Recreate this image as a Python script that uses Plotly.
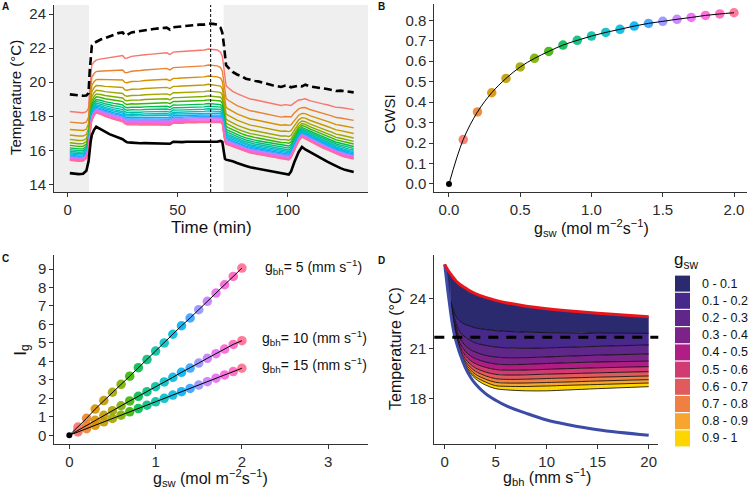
import plotly.graph_objects as go

W, H = 750, 489
FONT = "Liberation Sans, Arial, sans-serif"

# ---------------- Panel A data ----------------
time_min = [1, 3, 5, 7, 8.5, 9.5, 10, 10.5, 11, 12, 13, 14, 15, 17, 19, 21, 23, 25, 26, 27,
            29, 31, 33, 35, 37, 39, 41, 43, 45, 46.5, 48, 50, 52, 54, 56, 58, 60, 62, 64, 66,
            68, 69.5, 70.3, 71, 71.5, 72, 73, 75, 77, 79, 81, 83, 85, 87, 89, 91, 93, 95, 97, 99,
            100.5, 101.5, 103, 105, 106.5, 108, 110, 112, 114, 116, 118, 120, 122, 124, 126, 128, 130]
T_dry = [19.28, 19.25, 19.22, 19.20, 19.22, 19.35, 20.60, 21.60, 22.15, 22.30,
         22.38, 22.45, 22.50, 22.58, 22.70, 22.78, 22.88, 22.92, 22.75, 22.78,
         22.92, 22.95, 23.00, 23.05, 23.08, 23.12, 23.13, 23.18, 23.20, 23.08,
         23.22, 23.25, 23.27, 23.30, 23.32, 23.34, 23.38, 23.38, 23.45, 23.42,
         23.38, 23.20, 22.90, 22.20, 21.50, 21.00, 20.85, 20.60, 20.45, 20.35,
         20.20, 20.12, 20.08, 20.03, 19.95, 19.88, 19.82, 19.78, 19.72, 19.80,
         19.78, 19.70, 19.75, 19.80, 19.75, 19.85, 19.75, 19.70, 19.67, 19.63,
         19.60, 19.55, 19.48, 19.50, 19.47, 19.42, 19.40]
T_wet = [14.66, 14.62, 14.60, 14.62, 14.80, 15.35, 16.05, 16.55, 16.90, 17.20,
         17.38, 17.32, 17.25, 17.10, 16.95, 16.85, 16.75, 16.65, 16.55, 16.47,
         16.45, 16.42, 16.41, 16.42, 16.41, 16.40, 16.41, 16.40, 16.40, 16.38,
         16.50, 16.48, 16.48, 16.50, 16.48, 16.50, 16.50, 16.50, 16.52, 16.50,
         16.50, 16.55, 16.50, 15.90, 15.50, 15.45, 15.42, 15.35, 15.25, 15.15,
         15.08, 15.00, 14.95, 14.90, 14.87, 14.82, 14.77, 14.72, 14.68, 14.63,
         14.58, 14.75, 15.30, 15.90, 16.20, 16.05, 15.90, 15.75, 15.60, 15.45,
         15.33, 15.20, 15.05, 14.95, 14.85, 14.78, 14.72]
dark_periods = [(-10, 9.7), (70.9, 140)]
event_time = 65

# ---------------- Panel B data ----------------
gsw_levels = [0.1, 0.2, 0.3, 0.4, 0.5, 0.6, 0.7, 0.8, 0.9, 1.0,
              1.1, 1.2, 1.3, 1.4, 1.5, 1.6, 1.7, 1.8, 1.9, 2.0]
cwsi = [0.217, 0.352, 0.446, 0.516, 0.572, 0.614, 0.648, 0.679, 0.702, 0.723,
        0.741, 0.756, 0.772, 0.785, 0.795, 0.805, 0.814, 0.824, 0.831, 0.837]
hue_colors = ["#F8766D", "#EA8331", "#D89000", "#C09B00", "#A3A500", "#7CAE00", "#39B600",
              "#00BB4E", "#00BF7D", "#00C1A3", "#00BFC4", "#00BAE0", "#00B0F6", "#35A2FF",
              "#9590FF", "#C77CFF", "#E76BF3", "#FA62DB", "#FF62BC", "#FF6C91"]

# ---------------- Panel C data ----------------
Ig_gbh5 = [0.45, 0.92, 1.42, 1.88, 2.33, 2.76, 3.20, 3.66, 4.10, 4.56,
           5.00, 5.47, 5.93, 6.35, 6.80, 7.25, 7.70, 8.15, 8.60, 9.05]
Ig_gbh10 = [0.27, 0.54, 0.81, 1.08, 1.33, 1.60, 1.86, 2.11, 2.36, 2.63,
            2.89, 3.14, 3.41, 3.64, 3.91, 4.17, 4.42, 4.67, 4.92, 5.12]
Ig_gbh15 = [0.18, 0.36, 0.54, 0.73, 0.91, 1.09, 1.27, 1.45, 1.63, 1.81,
            2.00, 2.18, 2.36, 2.54, 2.72, 2.90, 3.09, 3.27, 3.45, 3.63]
gbh_labels = ["g<sub>bh</sub>= 5 (mm s<sup>\u22121</sup>)",
              "g<sub>bh</sub>= 10 (mm s<sup>\u22121</sup>)",
              "g<sub>bh</sub>= 15 (mm s<sup>\u22121</sup>)"]

# ---------------- Panel D data ----------------
gbh_edge = [0, 0.25, 0.5, 0.6, 0.8, 1.0, 1.25, 1.5, 2, 2.5, 3, 4, 5, 6, 8, 10, 12, 15, 20]
T_red = [26.06, 25.78, 25.55, 25.47, 25.30, 25.15, 24.98, 24.85, 24.65, 24.45, 24.30,
         24.08, 23.90, 23.76, 23.55, 23.40, 23.28, 23.13, 22.92]
T_blue = [26.06, 24.75, 23.55, 23.10, 22.30, 21.70, 21.15, 20.68, 19.90, 19.32, 18.90,
          18.30, 17.90, 17.58, 17.12, 16.72, 16.45, 16.13, 15.80]
T_air = 21.68
gbh_lines = [0.6, 0.8, 1.0, 1.25, 1.5, 2, 2.5, 3, 4, 5, 6, 8, 10, 12, 15, 20]
T_gsw01 = [23.85, 23.40, 23.05, 22.80, 22.65, 22.45, 22.35, 22.25, 22.15, 22.08, 22.04, 21.99, 21.96, 21.95, 21.93, 21.92]
T_gsw02 = [23.75, 23.20, 22.75, 22.30, 22.00, 21.70, 21.50, 21.35, 21.20, 21.10, 21.05, 21.02, 21.05, 21.08, 21.14, 21.22]
T_gsw03 = [23.65, 23.00, 22.50, 22.00, 21.60, 21.20, 20.95, 20.80, 20.60, 20.50, 20.46, 20.46, 20.50, 20.55, 20.61, 20.68]
T_gsw04 = [23.55, 22.85, 22.35, 21.75, 21.30, 20.85, 20.58, 20.40, 20.20, 20.08, 20.04, 20.06, 20.11, 20.15, 20.20, 20.25]
T_gsw05 = [23.47, 22.72, 22.20, 21.60, 21.10, 20.60, 20.30, 20.10, 19.88, 19.75, 19.71, 19.72, 19.76, 19.80, 19.85, 19.92]
T_gsw06 = [23.40, 22.62, 22.10, 21.48, 20.97, 20.40, 20.08, 19.85, 19.60, 19.46, 19.42, 19.43, 19.47, 19.50, 19.55, 19.62]
T_gsw07 = [23.33, 22.54, 22.00, 21.40, 20.87, 20.25, 19.90, 19.65, 19.37, 19.20, 19.16, 19.17, 19.21, 19.24, 19.29, 19.36]
T_gsw08 = [23.27, 22.47, 21.95, 21.33, 20.80, 20.13, 19.75, 19.47, 19.17, 18.98, 18.94, 18.94, 18.97, 19.00, 19.06, 19.14]
T_gsw09 = [23.21, 22.41, 21.90, 21.27, 20.74, 20.03, 19.62, 19.32, 19.00, 18.78, 18.74, 18.73, 18.76, 18.80, 18.85, 18.94]
T_gsw10 = [23.15, 22.36, 21.85, 21.22, 20.70, 19.95, 19.52, 19.20, 18.82, 18.60, 18.53, 18.47, 18.47, 18.52, 18.60, 18.72]
band_colors = ["#2b2a6e", "#47288b", "#5f2788", "#7b2388", "#b01e85",
               "#d03c72", "#e05a5e", "#ef7f42", "#f7a52e", "#fed500"]
band_labels = ["0 - 0.1", "0.1 - 0.2", "0.2 - 0.3", "0.3 - 0.4", "0.4 - 0.5",
               "0.5 - 0.6", "0.6 - 0.7", "0.7 - 0.8", "0.8 - 0.9", "0.9 - 1"]

# ---------------- helpers ----------------
def px(x):
    return x / W

def py(y):
    return 1 - y / H

fig = go.Figure()
common = dict(showlegend=False, hoverinfo="skip")

# ===== Panel A =====
for c, col in zip(cwsi, hue_colors):
    T = [d - c * (d - w) for d, w in zip(T_dry, T_wet)]
    fig.add_trace(go.Scatter(x=time_min, y=T, mode="lines", line=dict(color=col, width=1.4),
                             xaxis="x", yaxis="y", **common))
fig.add_trace(go.Scatter(x=time_min, y=T_wet, mode="lines", line=dict(color="black", width=2.6),
                         xaxis="x", yaxis="y", **common))
fig.add_trace(go.Scatter(x=time_min, y=T_dry, mode="lines",
                         line=dict(color="black", width=2.6, dash="8px,4px"),
                         xaxis="x", yaxis="y", **common))

# ===== Panel B =====
fig.add_trace(go.Scatter(x=[0], y=[0], mode="markers", marker=dict(color="black", size=6),
                         xaxis="x2", yaxis="y2", **common))
fig.add_trace(go.Scatter(x=gsw_levels, y=cwsi, mode="markers",
                         marker=dict(color=hue_colors, size=9.5, opacity=0.9),
                         xaxis="x2", yaxis="y2", **common))
fig.add_trace(go.Scatter(x=[0] + gsw_levels, y=[0] + cwsi, mode="lines", line_shape="spline",
                         line=dict(color="black", width=1),
                         xaxis="x2", yaxis="y2", **common))

# ===== Panel C =====
for Ig in (Ig_gbh5, Ig_gbh10, Ig_gbh15):
    fig.add_trace(go.Scatter(x=gsw_levels, y=Ig, mode="markers",
                             marker=dict(color=hue_colors, size=9.5, opacity=0.9),
                             xaxis="x3", yaxis="y3", **common))
fig.add_trace(go.Scatter(x=[0], y=[0], mode="markers", marker=dict(color="black", size=6),
                         xaxis="x3", yaxis="y3", **common))
for Ig in (Ig_gbh5, Ig_gbh10, Ig_gbh15):
    fig.add_trace(go.Scatter(x=[0] + gsw_levels, y=[0] + Ig, mode="lines",
                             line=dict(color="black", width=1),
                             xaxis="x3", yaxis="y3", **common))

# ===== Panel D =====
n_left = sum(1 for g in gbh_edge if g <= gbh_lines[0])
fig.add_trace(go.Scatter(x=gbh_edge[:n_left], y=T_red[:n_left], mode="lines", line_shape="spline",
                         line=dict(width=0, color=band_colors[0]), xaxis="x4", yaxis="y4", **common))
fig.add_trace(go.Scatter(x=gbh_edge[:n_left], y=T_blue[:n_left], mode="lines", line_shape="spline",
                         line=dict(width=0, color=band_colors[0]), fill="tonexty",
                         fillcolor=band_colors[0], xaxis="x4", yaxis="y4", **common))
fig.add_trace(go.Scatter(x=gbh_edge[n_left - 2:], y=T_red[n_left - 2:], mode="lines",
                         line_shape="spline", line=dict(width=0, color=band_colors[0]),
                         xaxis="x4", yaxis="y4", **common))
gsw_curves = [T_gsw01, T_gsw02, T_gsw03, T_gsw04, T_gsw05,
              T_gsw06, T_gsw07, T_gsw08, T_gsw09, T_gsw10]
for curve, col in zip(gsw_curves, band_colors):
    fig.add_trace(go.Scatter(x=gbh_lines, y=curve, mode="lines", line_shape="spline",
                             line=dict(color="black", width=0.8), fill="tonexty", fillcolor=col,
                             xaxis="x4", yaxis="y4", **common))
fig.add_trace(go.Scatter(x=gbh_edge, y=T_blue, mode="lines", line_shape="spline",
                         line=dict(color="#3c4ba6", width=3), xaxis="x4", yaxis="y4", **common))
fig.add_trace(go.Scatter(x=gbh_edge, y=T_red, mode="lines", line_shape="spline",
                         line=dict(color="#e8151b", width=3), xaxis="x4", yaxis="y4", **common))

# ---------------- axes ----------------
axis_style = dict(showline=True, linecolor="#333333", linewidth=1, ticks="outside", ticklen=4,
                  tickcolor="#333333", tickwidth=1, showgrid=False, zeroline=False,
                  tickfont=dict(family=FONT, size=15, color="#2b2b2b"), fixedrange=True)

fig.update_layout(
    width=W, height=H, margin=dict(l=0, r=0, t=0, b=0),
    paper_bgcolor="white", plot_bgcolor="white", font=dict(family=FONT),
    xaxis=dict(domain=[px(54), px(368)], range=[-6.2, 136.5], tickvals=[0, 50, 100],
               anchor="y", **axis_style),
    yaxis=dict(domain=[py(192), py(5)], range=[13.55, 24.53], tickvals=[14, 16, 18, 20, 22, 24],
               anchor="x", **axis_style),
    xaxis2=dict(domain=[px(434.3), px(746.7)], range=[-0.103, 2.089],
                tickvals=[0, 0.5, 1, 1.5, 2], tickformat=".1f", anchor="y2", **axis_style),
    yaxis2=dict(domain=[py(192.3), py(4)], range=[-0.0406, 0.8797],
                tickvals=[0, 0.1, 0.2, 0.3, 0.4, 0.5, 0.6, 0.7, 0.8], tickformat=".1f",
                anchor="x2", **axis_style),
    xaxis3=dict(domain=[px(54.3), px(368.3)], range=[-0.174, 3.465], tickvals=[0, 1, 2, 3],
                anchor="y3", **axis_style),
    yaxis3=dict(domain=[py(444.3), py(255)], range=[-0.487, 9.76], tickvals=list(range(10)),
                anchor="x3", **axis_style),
    xaxis4=dict(domain=[px(434.3), px(658.3)], range=[-1.02, 20.94], tickvals=[0, 5, 10, 15, 20],
                anchor="y4", **axis_style),
    yaxis4=dict(domain=[py(444), py(255)], range=[15.28, 26.62], tickvals=[18, 21, 24],
                anchor="x4", **axis_style),
)

# ---------------- shapes ----------------
shapes = []
for a, b in dark_periods:
    shapes.append(dict(type="rect", xref="x", yref="y domain", x0=a, x1=b, y0=0, y1=1,
                       fillcolor="#efefef", line=dict(width=0), layer="below"))
shapes.append(dict(type="line", xref="x", yref="y domain", x0=event_time, x1=event_time,
                   y0=0, y1=1, line=dict(color="black", width=1, dash="3px,2px")))
shapes.append(dict(type="line", xref="x4 domain", yref="y4", x0=0, x1=1, y0=T_air, y1=T_air,
                   line=dict(color="black", width=3, dash="10px,8px")))
row_h = 17.2
for i, col in enumerate(band_colors):
    top = 275 + row_h * i
    shapes.append(dict(type="rect", xref="paper", yref="paper", x0=px(675), x1=px(690),
                       y0=py(top + row_h - 0.6), y1=py(top + 0.6), fillcolor=col,
                       line=dict(width=0)))
fig.update_layout(shapes=shapes)

# ---------------- annotations ----------------
ann = []
def text(t, x, y, size, angle=0, anchor="center", bold=False, color="#111111"):
    ann.append(dict(text=("<b>%s</b>" % t) if bold else t, x=px(x), y=py(y), xref="paper",
                    yref="paper", showarrow=False, textangle=angle, xanchor=anchor,
                    yanchor="middle", font=dict(family=FONT, size=size, color=color)))

text("A", 5.5, 6.5, 10, bold=True)
text("B", 381, 6.5, 10, bold=True)
text("C", 5.5, 258.5, 10, bold=True)
text("D", 381, 260, 10, bold=True)

text("Temperature (\u00b0C)", 15, 98, 15, angle=-90)
text("Time (min)", 211.7, 227, 17)
text("CWSI", 388.5, 114, 15, angle=-90)
text("g<sub>sw</sub> (mol m<sup>\u22122</sup>s<sup>\u22121</sup>)", 591.7, 228, 16)
text("I<sub>g</sub>", 21.7, 350, 17, angle=-90)
text("g<sub>sw</sub> (mol m<sup>\u22122</sup>s<sup>\u22121</sup>)", 210.8, 478, 16)
text("Temperature (\u00b0C)", 395, 348, 16, angle=-90)
text("g<sub>bh</sub> (mm s<sup>\u22121</sup>)", 546.7, 477, 16)

text(gbh_labels[0], 263, 267, 14, anchor="left")
text(gbh_labels[1], 260, 338, 14, anchor="left")
text(gbh_labels[2], 260, 365, 14, anchor="left")

text("g<sub>sw</sub>", 672, 261, 17, anchor="left")
for i, lab in enumerate(band_labels):
    text(lab, 700, 275 + row_h * (i + 0.5), 12.5, anchor="left")

fig.update_layout(annotations=ann)
fig.write_html("out.html", config={"displayModeBar": False},
               post_script="document.body.style.margin='0px';")
